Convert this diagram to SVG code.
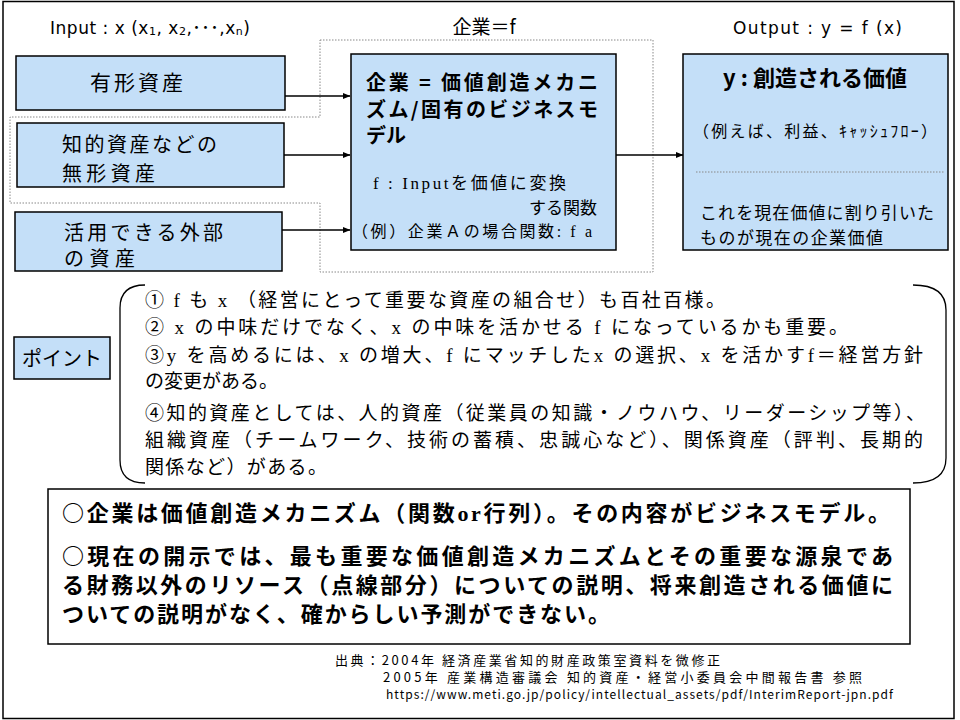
<svg xmlns="http://www.w3.org/2000/svg" width="960" height="720" viewBox="0 0 960 720">
<defs>
<marker id="ah" markerWidth="8" markerHeight="8" refX="7.5" refY="4" orient="auto" markerUnits="userSpaceOnUse"><path d="M0,0.8 L8,4 L0,7.2 Z" fill="#000"/></marker>
<style>
.box{fill:#C4DFF8;stroke:#000;stroke-width:1.5}
.jp{font-family:"Noto Sans CJK JP",sans-serif;fill:#000}
.b{font-weight:bold}
.lat{font-family:"Liberation Serif","Noto Sans CJK JP",serif}
.hdr{font-family:"DejaVu Sans","Noto Sans CJK JP",sans-serif;font-size:17px;fill:#000}
.conn{stroke:#000;stroke-width:1.3;fill:none}
.dot{stroke:#888;stroke-width:1;stroke-dasharray:1.5 1.5;fill:none}
.frame{fill:none;stroke:#000;stroke-width:1.5}
</style>
</defs>
<rect width="960" height="720" fill="#fff"/>
<rect class="frame" x="3" y="1.5" width="951" height="717"/>

<g id="headers">
<text class="hdr" x="50" y="34" textLength="200" lengthAdjust="spacing">Input : x (x<tspan font-size="11" dy="1">1</tspan><tspan dy="-1">, x</tspan><tspan font-size="11" dy="1">2</tspan><tspan dy="-1">,･･･,x</tspan><tspan font-size="11" dy="1">n</tspan><tspan dy="-1">)</tspan></text>
<text class="jp" x="484" y="34" font-size="19" text-anchor="middle">企業＝f</text>
<text class="hdr" x="733" y="34" textLength="169" lengthAdjust="spacing">Output : y = f (x)</text>
</g>

<g id="dotted-region">
<path class="dot" d="M320,40 H653 V272 H320 V203 H10 V117 H320 Z"/>
</g>

<g id="connectors">
<path class="conn" d="M285,96 H350" marker-end="url(#ah)"/>
<path class="conn" d="M284,155 H350" marker-end="url(#ah)"/>
<path class="conn" d="M282,230 H350" marker-end="url(#ah)"/>
<path class="conn" d="M616,155 H683" marker-end="url(#ah)"/>
<path class="conn" d="M804,148 V195" marker-end="url(#ah)"/>
</g>

<g id="tangible">
<rect class="box" x="16" y="56" width="269" height="54"/>
<text class="jp" x="90" y="90" font-size="21" textLength="93" lengthAdjust="spacing">有形資産</text>
</g>

<g id="intangible">
<rect class="box" x="17" y="123" width="267" height="64"/>
<text class="jp" x="62" y="152" font-size="20" textLength="155" lengthAdjust="spacing">知的資産などの</text>
<text class="jp" x="62" y="181" font-size="20" textLength="93" lengthAdjust="spacing">無形資産</text>
</g>

<g id="external">
<rect class="box" x="15" y="212" width="267" height="59"/>
<text class="jp" x="64" y="240" font-size="20" textLength="159" lengthAdjust="spacing">活用できる外部</text>
<text class="jp" x="64" y="266" font-size="20" textLength="71" lengthAdjust="spacing">の資産</text>
</g>

<g id="company">
<rect class="box" x="351" y="54" width="265" height="196"/>
<text class="jp b" x="366" y="90" font-size="20" textLength="232" lengthAdjust="spacing">企業 = 価値創造メカニ</text>
<text class="jp b" x="366" y="117" font-size="20" textLength="232" lengthAdjust="spacing">ズム/固有のビジネスモ</text>
<text class="jp b" x="366" y="143" font-size="20">デル</text>
<text class="jp" x="373" y="189" font-size="17" textLength="193" lengthAdjust="spacing"><tspan class="lat">f : Input</tspan>を価値に変換</text>
<text class="jp" x="597" y="214" font-size="17" text-anchor="end">する関数</text>
<text class="jp" x="352" y="237" font-size="16" textLength="240" lengthAdjust="spacing">（例）企業Ａの場合関数<tspan class="lat">: f a</tspan></text>
</g>

<g id="output">
<rect class="box" x="683" y="54" width="265" height="196"/>
<text class="jp b" x="815" y="86" font-size="22" text-anchor="middle">y : 創造される価値</text>
<text class="jp" x="693" y="137" font-size="16" textLength="244" lengthAdjust="spacing">（例えば、利益、ｷｬｯｼｭﾌﾛｰ）</text>
<line class="dot" x1="696" y1="172" x2="945" y2="172"/>
<text class="jp" x="700" y="219" font-size="17" textLength="234" lengthAdjust="spacing">これを現在価値に割り引いた</text>
<text class="jp" x="700" y="244" font-size="17" textLength="183" lengthAdjust="spacing">ものが現在の企業価値</text>
</g>

<g id="point-label">
<rect class="box" x="14" y="337" width="96" height="42"/>
<text class="jp" x="62" y="366" font-size="20" text-anchor="middle">ポイント</text>
</g>

<g id="points">
<path class="conn" stroke-width="1" d="M145,285 Q120,285 120,308 V460 Q120,483 145,483"/>
<path class="conn" stroke-width="1" d="M913,285 Q946,285 946,310 V458 Q946,483 913,483"/>
<text class="jp" x="145" y="307" font-size="19" textLength="580" lengthAdjust="spacing">①<tspan class="lat"> f </tspan>も<tspan class="lat"> x </tspan>（経営にとって重要な資産の組合せ）も百社百様。</text>
<text class="jp" x="145" y="334" font-size="19" textLength="703" lengthAdjust="spacing">②<tspan class="lat"> x </tspan>の中味だけでなく、<tspan class="lat">x </tspan>の中味を活かせる<tspan class="lat"> f </tspan>になっているかも重要。</text>
<text class="jp" x="145" y="362" font-size="19" textLength="778" lengthAdjust="spacing">③<tspan class="lat">y </tspan>を高めるには、<tspan class="lat">x </tspan>の増大、<tspan class="lat">f </tspan>にマッチした<tspan class="lat">x </tspan>の選択、<tspan class="lat">x </tspan>を活かす<tspan class="lat">f</tspan>＝経営方針</text>
<text class="jp" x="145" y="388" font-size="19">の変更がある。</text>
<text class="jp" x="145" y="420" font-size="19" textLength="780" lengthAdjust="spacing">④知的資産としては、人的資産（従業員の知識・ノウハウ、リーダーシップ等）、</text>
<text class="jp" x="145" y="447" font-size="19" textLength="778" lengthAdjust="spacing">組織資産（チームワーク、技術の蓄積、忠誠心など）、関係資産（評判、長期的</text>
<text class="jp" x="145" y="474" font-size="19" textLength="182" lengthAdjust="spacing">関係など）がある。</text>
</g>

<g id="summary">
<rect x="48" y="489" width="862" height="155" fill="#fff" stroke="#000" stroke-width="1.5"/>
<text class="jp b" x="62" y="521" font-size="22" textLength="828" lengthAdjust="spacing">○企業は価値創造メカニズム（関数<tspan class="lat">or</tspan>行列）。その内容がビジネスモデル。</text>
<text class="jp b" x="62" y="564" font-size="22" textLength="831" lengthAdjust="spacing">○現在の開示では、最も重要な価値創造メカニズムとその重要な源泉であ</text>
<text class="jp b" x="62" y="593" font-size="22" textLength="831" lengthAdjust="spacing">る財務以外のリソース（点線部分）についての説明、将来創造される価値に</text>
<text class="jp b" x="62" y="622" font-size="22" textLength="548" lengthAdjust="spacing">ついての説明がなく、確からしい予測ができない。</text>
</g>

<g id="source">
<text class="jp" x="335" y="665" font-size="13" textLength="385" lengthAdjust="spacing">出典：2004年 経済産業省知的財産政策室資料を微修正</text>
<text class="jp" x="383" y="682" font-size="13" textLength="479" lengthAdjust="spacing">2005年 産業構造審議会 知的資産・経営小委員会中間報告書 参照</text>
<text class="jp" x="386" y="699" font-size="12" textLength="507" lengthAdjust="spacing">https://www.meti.go.jp/policy/intellectual_assets/pdf/InterimReport-jpn.pdf</text>
</g>
</svg>
